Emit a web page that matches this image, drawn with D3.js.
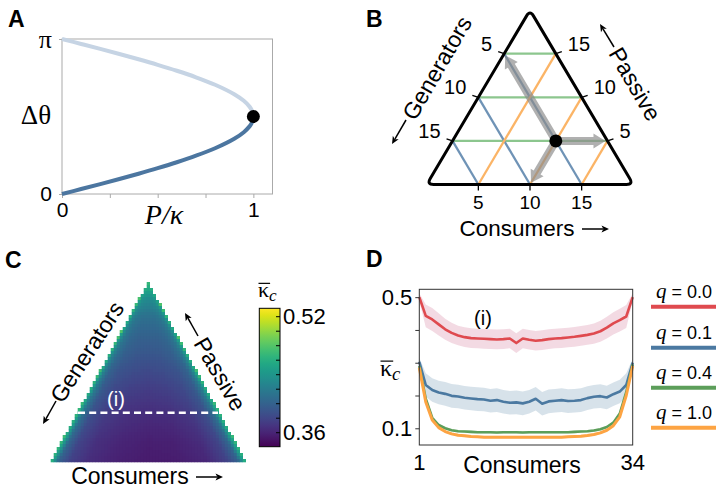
<!DOCTYPE html>
<html><head><meta charset="utf-8">
<script src="https://cdn.jsdelivr.net/npm/d3@7"></script>
<style>
body{margin:0;background:#fff}
svg{display:block}
text{font-family:"Liberation Sans",Arial,Helvetica,sans-serif;fill:#000}
.serif{font-family:"Liberation Serif","DejaVu Serif",serif}
</style>
</head><body>
<svg id="c" width="720" height="488"></svg>
<script>
// ================= DATA =================
// Panel A: phase difference vs load (two branches)
const aP      = [0,0.1,0.2,0.3,0.4,0.5,0.6,0.7,0.8,0.9,0.95,0.98,0.99,0.995,1.0];
const aStable = [0,0.1002,0.2014,0.3047,0.4115,0.5236,0.6435,0.7754,0.9273,1.1198,1.2532,1.3705,1.4293,1.4708,1.5708];
const aUnstab = [3.1416,3.0414,2.9402,2.8369,2.7301,2.6180,2.4981,2.3662,2.2143,2.0218,1.8884,1.7711,1.7123,1.6708,1.5708];
const aSaddle = [1.0, 1.5708];
const aXTicks = [0,0.25,0.5,0.75,1];
const aXTickLabels = ["0","","","","1"];
const aYTicks = [0, 3.1416];
const aYTickLabels = ["0","π"];

// Panel B: ternary sketch (N = 20)
const bTotal = 20;
const bTicks = [5,10,15];
const bPoint = {c:10, g:5, p:5};
const bArrowTargets = [{c:0,g:5,p:15},{c:15,g:0,p:5},{c:10,g:10,p:0}];

// Panel C: mean critical coupling over the simplex (rows apex->base, cols left->right edge)
const cColPos = [0,0.04,0.1,0.2,0.35,0.5,0.65,0.8,0.9,0.96,1];
const cRows = [
  [0.49,0.48,0.47,0.47,0.47,0.47,0.47,0.47,0.47,0.48,0.49],
  [0.48,0.455,0.445,0.435,0.432,0.43,0.432,0.435,0.445,0.455,0.48],
  [0.48,0.445,0.425,0.415,0.41,0.41,0.41,0.415,0.425,0.445,0.48],
  [0.48,0.435,0.415,0.405,0.40,0.40,0.40,0.405,0.415,0.435,0.48],
  [0.475,0.43,0.41,0.398,0.393,0.392,0.393,0.398,0.41,0.43,0.475],
  [0.475,0.425,0.40,0.39,0.385,0.383,0.385,0.39,0.40,0.425,0.475],
  [0.47,0.42,0.395,0.383,0.377,0.375,0.377,0.383,0.395,0.42,0.47],
  [0.47,0.415,0.39,0.377,0.37,0.368,0.37,0.377,0.39,0.415,0.47],
  [0.47,0.41,0.385,0.372,0.365,0.362,0.363,0.37,0.385,0.41,0.47],
  [0.47,0.405,0.38,0.367,0.36,0.357,0.358,0.365,0.38,0.405,0.47],
  [0.47,0.40,0.378,0.365,0.358,0.355,0.356,0.362,0.378,0.40,0.47]
];
const cDomain = [0.3407, 0.5316];
const cBarTicks = [0.36,0.38,0.40,0.42,0.44,0.46,0.48,0.50,0.52];
const cBarLabels = ["0.36","0.52"];

// Panel D: mean critical coupling along line (i)
const dConsumers = d3.range(1,35);
const dSeriesNames = ["0.0","0.1","0.4","1.0"];
const dColors = ["#df4a4f","#4b79a1","#5c9e5a","#fda443"];
const dBandColors = ["#c8557f","#4b79a1","#5c9e5a","#fda443"];
const dQ00 = [0.500,0.443,0.432,0.417,0.402,0.391,0.383,0.378,0.375,0.374,0.373,0.372,0.371,0.372,0.374,0.360,0.374,0.370,0.367,0.369,0.372,0.374,0.375,0.377,0.379,0.382,0.385,0.389,0.396,0.407,0.420,0.430,0.441,0.500];
const dQ01 = [0.303,0.232,0.217,0.209,0.205,0.199,0.197,0.193,0.191,0.189,0.188,0.184,0.186,0.181,0.178,0.179,0.176,0.181,0.190,0.175,0.182,0.184,0.186,0.183,0.184,0.186,0.192,0.196,0.198,0.194,0.204,0.212,0.232,0.300];
const dQ04 = [0.290,0.190,0.132,0.110,0.100,0.094,0.091,0.090,0.089,0.088,0.088,0.088,0.087,0.088,0.088,0.088,0.087,0.088,0.088,0.088,0.088,0.088,0.088,0.088,0.089,0.090,0.091,0.093,0.097,0.104,0.117,0.145,0.210,0.295];
const dQ10 = [0.285,0.180,0.125,0.102,0.090,0.083,0.079,0.077,0.075,0.074,0.073,0.073,0.073,0.073,0.073,0.073,0.073,0.073,0.073,0.073,0.073,0.073,0.073,0.074,0.075,0.076,0.078,0.081,0.086,0.094,0.108,0.135,0.200,0.290];
const dBand00 = [0.012,0.035,0.035,0.034,0.032,0.031,0.030,0.030,0.030,0.030,0.030,0.030,0.030,0.030,0.030,0.030,0.030,0.030,0.030,0.030,0.030,0.030,0.030,0.030,0.030,0.030,0.030,0.031,0.032,0.033,0.034,0.035,0.035,0.012];
const dBand01 = [0.012,0.036,0.036,0.036,0.036,0.036,0.036,0.036,0.036,0.036,0.036,0.036,0.036,0.036,0.036,0.036,0.036,0.036,0.036,0.036,0.036,0.036,0.036,0.036,0.036,0.036,0.036,0.036,0.036,0.036,0.036,0.036,0.036,0.012];
const dBand04 = [0.004,0.006,0.005,0.004,0.004,0.004,0.004,0.004,0.004,0.004,0.004,0.004,0.004,0.004,0.004,0.004,0.004,0.004,0.004,0.004,0.004,0.004,0.004,0.004,0.004,0.004,0.004,0.004,0.004,0.004,0.004,0.005,0.006,0.004];
const dBand10 = [0.004,0.006,0.005,0.004,0.004,0.004,0.004,0.004,0.004,0.004,0.004,0.004,0.004,0.004,0.004,0.004,0.004,0.004,0.004,0.004,0.004,0.004,0.004,0.004,0.004,0.004,0.004,0.004,0.004,0.004,0.004,0.005,0.006,0.004];
const dYTicks = [0.1,0.2,0.3,0.4,0.5];
const dYTickLabels = ["0.1","","","","0.5"];
const dXTickLabels = ["1","34"];

// ================= DRAW =================
const svg = d3.select("#c");
const defs = svg.append("defs");

function panelLabel(t,x,y){
  svg.append("text").attr("x",x).attr("y",y).attr("font-size",23).attr("font-weight","bold").text(t);
}
function arrowLine(g,x1,y1,x2,y2,col){
  col = col||"#000";
  const dx=x2-x1, dy=y2-y1, L=Math.hypot(dx,dy), ux=dx/L, uy=dy/L;
  const hl=7.5, hw=3.4;
  g.append("line").attr("x1",x1).attr("y1",y1).attr("x2",x2-ux*hl*0.8).attr("y2",y2-uy*hl*0.8)
    .attr("stroke",col).attr("stroke-width",1.5);
  g.append("path").attr("d",`M${x2},${y2}L${x2-ux*hl-uy*hw},${y2-uy*hl+ux*hw}L${x2-ux*hl*0.75},${y2-uy*hl*0.75}L${x2-ux*hl+uy*hw},${y2-uy*hl-ux*hw}Z`).attr("fill",col);
}
function rotLabel(text,cx,cy,angle,size){
  svg.append("text").attr("transform",`translate(${cx},${cy}) rotate(${angle})`)
    .attr("text-anchor","middle").attr("dominant-baseline","central").attr("font-size",size).text(text);
}

// ---------- Panel A ----------
panelLabel("A",8,27);
const ax = d3.scaleLinear().domain([0,1.1]).range([62,272.5]);
const ay = d3.scaleLinear().domain([0,Math.PI]).range([194,39]);
const gA = svg.append("g");
gA.append("rect").attr("x",ax(0)).attr("y",ay(Math.PI)).attr("width",ax(1.1)-ax(0)).attr("height",ay(0)-ay(Math.PI))
  .attr("fill","none").attr("stroke","#aaa").attr("stroke-width",1);
const axB = gA.append("g").attr("transform",`translate(0,${ay(0)})`)
  .call(d3.axisBottom(ax).tickValues(aXTicks).tickSize(4).tickPadding(3).tickFormat((d,i)=>aXTickLabels[i]));
axB.select(".domain").remove();
axB.selectAll("line").attr("stroke","#aaa");
axB.selectAll("text").attr("font-size",21).attr("fill","#000").attr("dy","0.75em");
const axL = gA.append("g").attr("transform",`translate(${ax(0)},0)`)
  .call(d3.axisLeft(ay).tickValues(aYTicks).tickSize(3).tickPadding(7).tickFormat((d,i)=>aYTickLabels[i]));
axL.select(".domain").remove();
axL.selectAll("line").attr("stroke","#aaa");
axL.selectAll("text").attr("fill","#000")
  .attr("class",(d,i)=> aYTickLabels[i]==="π"?"serif":null).attr("font-size",(d,i)=>aYTickLabels[i]==="π"?26:21);
const aLine = d3.line().x(d=>ax(d[0])).y(d=>ay(d[1])).curve(d3.curveCatmullRom);
gA.append("path").attr("d",aLine(aP.map((p,i)=>[p,aUnstab[i]]))).attr("fill","none").attr("stroke","#c6d4e4").attr("stroke-width",4);
gA.append("path").attr("d",aLine(aP.map((p,i)=>[p,aStable[i]]))).attr("fill","none").attr("stroke","#4c76a0").attr("stroke-width",4);
gA.append("circle").attr("cx",ax(aSaddle[0])).attr("cy",ay(aSaddle[1])).attr("r",6.5).attr("fill","#000");
gA.append("text").attr("class","serif").attr("x",36).attr("y",124).attr("text-anchor","middle").attr("font-size",27).text("Δθ");
gA.append("text").attr("class","serif").attr("x",164).attr("y",224).attr("text-anchor","middle").attr("font-size",28)
  .attr("font-style","italic").text("P/κ");

// ---------- Panel B ----------
panelLabel("B",366,27);
const bxs = d3.scaleLinear().domain([0,bTotal]).range([426.7,633.3]);
const bys = d3.scaleLinear().domain([0,bTotal]).range([184.5,10.1]);
const tern = o => [bxs(o.c + o.p/2), bys(o.p)];
const gB = svg.append("g");
function seg(a,b,col){
  const A=tern(a),B=tern(b);
  gB.append("line").attr("x1",A[0]).attr("y1",A[1]).attr("x2",B[0]).attr("y2",B[1]).attr("stroke",col).attr("stroke-width",2.3);
}
bTicks.forEach(k=>seg({c:0,g:bTotal-k,p:k},{c:bTotal-k,g:0,p:k},"#8cc68e"));
bTicks.forEach(k=>seg({c:0,g:k,p:bTotal-k},{c:bTotal-k,g:k,p:0},"#6f93b6"));
bTicks.forEach(k=>seg({c:k,g:bTotal-k,p:0},{c:k,g:0,p:bTotal-k},"#fbb466"));
// gray arrows
const gArr = gB.append("g").attr("opacity",0.68);
const P0 = tern(bPoint);
bArrowTargets.forEach(t=>{
  const T = tern(t);
  const dx=T[0]-P0[0], dy=T[1]-P0[1], L=Math.hypot(dx,dy), ux=dx/L, uy=dy/L;
  const tip=[T[0]-ux*2, T[1]-uy*2], hl=12, hw=7.5, sw=4;
  const base=[tip[0]-ux*hl, tip[1]-uy*hl];
  gArr.append("path").attr("d",`M${P0[0]-uy*sw},${P0[1]+ux*sw}L${base[0]-uy*sw},${base[1]+ux*sw}L${base[0]-uy*hw},${base[1]+ux*hw}L${tip[0]},${tip[1]}L${base[0]+uy*hw},${base[1]-ux*hw}L${base[0]+uy*sw},${base[1]-ux*sw}L${P0[0]+uy*sw},${P0[1]-ux*sw}Z`)
    .attr("fill","#8c8c8c");
});
gB.append("circle").attr("cx",P0[0]).attr("cy",P0[1]).attr("r",6.5).attr("fill","#000");
// rounded triangle border
const V = [tern({c:0,g:bTotal,p:0}), tern({c:bTotal,g:0,p:0}), tern({c:0,g:0,p:bTotal})];
(function(){
  const r=7; let d="";
  for(let i=0;i<3;i++){
    const v=V[i], prev=V[(i+2)%3], next=V[(i+1)%3];
    const u1=[prev[0]-v[0],prev[1]-v[1]], l1=Math.hypot(...u1);
    const u2=[next[0]-v[0],next[1]-v[1]], l2=Math.hypot(...u2);
    const a=[v[0]+u1[0]/l1*r, v[1]+u1[1]/l1*r], b=[v[0]+u2[0]/l2*r, v[1]+u2[1]/l2*r];
    d += (i===0?"M":"L")+a[0]+","+a[1]+"Q"+v[0]+","+v[1]+" "+b[0]+","+b[1];
  }
  d+="Z";
  gB.append("path").attr("d",d).attr("fill","none").attr("stroke","#000").attr("stroke-width",3).attr("stroke-linejoin","round");
})();
// ticks + labels
bTicks.forEach(k=>{
  let p = tern({c:0,g:k,p:bTotal-k});
  gB.append("line").attr("x1",p[0]).attr("y1",p[1]).attr("x2",p[0]-6).attr("y2",p[1]-2).attr("stroke","#000").attr("stroke-width",1.3);
  gB.append("text").attr("x",p[0]-12).attr("y",p[1]-10).attr("text-anchor","end").attr("dominant-baseline","central").attr("font-size",20).text(k);
  p = tern({c:bTotal-k,g:0,p:k});
  gB.append("line").attr("x1",p[0]).attr("y1",p[1]).attr("x2",p[0]+6).attr("y2",p[1]-2).attr("stroke","#000").attr("stroke-width",1.3);
  gB.append("text").attr("x",p[0]+12).attr("y",p[1]-10).attr("text-anchor","start").attr("dominant-baseline","central").attr("font-size",20).text(k);
  p = tern({c:k,g:bTotal-k,p:0});
  gB.append("line").attr("x1",p[0]).attr("y1",p[1]).attr("x2",p[0]).attr("y2",p[1]+6).attr("stroke","#000").attr("stroke-width",1.3);
  gB.append("text").attr("x",p[0]).attr("y",p[1]+24.5).attr("text-anchor","middle").attr("font-size",19).text(k);
});
rotLabel("Generators",437,68,-60,23);
arrowLine(svg,406,120,392,144);
rotLabel("Passive",635,84,60,23);
arrowLine(svg,614,47,600,24);
svg.append("text").attr("x",517).attr("y",236).attr("text-anchor","middle").attr("font-size",22.5).text("Consumers");
arrowLine(svg,582,229,609,229);

// ---------- Panel C ----------
panelLabel("C",5,268);
const cApex=[148,282], cBL=[51.7,459.5], cBR=[245,459.5];
const cColor = d3.scaleSequential(d3.interpolateViridis).domain(cDomain);
function cValue(t,s){
  const nr=cRows.length-1, rf=t*nr, r0=Math.min(Math.floor(rf),nr-1), fr=rf-r0;
  let j=0; while(j<cColPos.length-2 && s>cColPos[j+1]) j++;
  const fs=(s-cColPos[j])/(cColPos[j+1]-cColPos[j]);
  const v0=cRows[r0][j]*(1-fs)+cRows[r0][j+1]*fs;
  const v1=cRows[r0+1][j]*(1-fs)+cRows[r0+1][j+1]*fs;
  return v0*(1-fr)+v1*fr;
}
const cCells=[]; const cs=3;
for(let y=cApex[1]; y<cBL[1]; y+=cs){
  const cy=y+cs/2, t=(cy-cApex[1])/(cBL[1]-cApex[1]);
  const L=cApex[0]-t*(cApex[0]-cBL[0]), R=cApex[0]+t*(cBR[0]-cApex[0]);
  for(let x=cBL[0]-1; x<cBR[0]; x+=cs){
    const cx=x+cs/2;
    if(cx<L||cx>R) continue;
    const s=(R-L)>0?(cx-L)/(R-L):0.5;
    cCells.push({x,y,v:cValue(t,Math.max(0,Math.min(1,s)))});
  }
}
svg.append("g").selectAll("rect").data(cCells).join("rect")
  .attr("x",d=>d.x).attr("y",d=>d.y).attr("width",cs+0.3).attr("height",cs+0.3).attr("fill",d=>cColor(d.v));
// dashed line (i)
svg.append("line").attr("x1",78).attr("y1",412.7).attr("x2",218).attr("y2",412.7)
  .attr("stroke","#fff").attr("stroke-width",2.6).attr("stroke-dasharray","7,4.2");
svg.append("text").attr("x",116).attr("y",406).attr("text-anchor","middle").attr("font-size",20).style("fill","#fff").text("(i)");
rotLabel("Generators",87,352,-57,23);
arrowLine(svg,56,401,43,424);
rotLabel("Passive",220,374,60,23);
arrowLine(svg,198,336,185,313);
svg.append("text").attr("x",130).attr("y",484).attr("text-anchor","middle").attr("font-size",23).text("Consumers");
arrowLine(svg,196,477,223,477);
// colorbar
const cbX=259.3, cbW=20.7, cbY0=308.3, cbY1=446.7;
const cby = d3.scaleLinear().domain(cDomain).range([cbY1,cbY0]);
const grad = defs.append("linearGradient").attr("id","vir").attr("x1",0).attr("y1",1).attr("x2",0).attr("y2",0);
d3.range(0,1.0001,0.05).forEach(f=>grad.append("stop").attr("offset",f).attr("stop-color",d3.interpolateViridis(f)));
svg.append("rect").attr("x",cbX).attr("y",cbY0).attr("width",cbW).attr("height",cbY1-cbY0).attr("fill","url(#vir)").attr("stroke","#000").attr("stroke-width",1);
cBarTicks.forEach(v=>svg.append("line").attr("x1",cbX+cbW-4).attr("x2",cbX+cbW).attr("y1",cby(v)).attr("y2",cby(v)).attr("stroke","#000").attr("stroke-width",1));
[cBarTicks[0], cBarTicks[cBarTicks.length-1]].forEach((v,i)=>svg.append("text").attr("x",cbX+cbW+3).attr("y",cby(v)).attr("dominant-baseline","central").attr("font-size",22).text(cBarLabels[i]));
function kappaLabel(x,y,size){
  const t=svg.append("text").attr("x",x).attr("y",y).attr("font-size",size);
  t.append("tspan").attr("class","serif").text("κ");
  t.append("tspan").attr("class","serif").attr("font-style","italic").attr("font-size",size*0.78).attr("dy",size*0.18).text("c");
  svg.append("line").attr("x1",x+0.5).attr("x2",x+size*0.55).attr("y1",y-size*0.62).attr("y2",y-size*0.62).attr("stroke","#000").attr("stroke-width",1.2);
}
kappaLabel(258,297,22);

// ---------- Panel D ----------
panelLabel("D",366,267);
const dx = d3.scaleLinear().domain([1,34]).range([419.3,632.7]);
const dy = d3.scaleLinear().domain([0.049,0.524]).range([445,289.3]);
const gD = svg.append("g");
const dSeries=[dQ00,dQ01,dQ04,dQ10], dBands=[dBand00,dBand01,dBand04,dBand10];
const dArea = (vals,band)=>d3.area().x((d,i)=>dx(dConsumers[i])).y0((d,i)=>dy(vals[i]-band[i])).y1((d,i)=>dy(vals[i]+band[i]))(vals);
const dLine = d3.line().x((d,i)=>dx(dConsumers[i])).y(d=>dy(d));
dSeries.forEach((vals,k)=>{
  gD.append("path").attr("d",dArea(vals,dBands[k])).attr("fill",dBandColors[k]).attr("opacity",k<2?0.22:0.25);
});
dSeries.forEach((vals,k)=>{
  gD.append("path").attr("d",dLine(vals)).attr("fill","none").attr("stroke",dColors[k]).attr("stroke-width",k===3?3:2.6).attr("stroke-linejoin","round");
});
gD.append("rect").attr("x",dx(1)).attr("y",dy(0.524)).attr("width",dx(34)-dx(1)).attr("height",dy(0.049)-dy(0.524))
  .attr("fill","none").attr("stroke","#333").attr("stroke-width",1);
const dAxL = gD.append("g").attr("transform",`translate(${dx(1)},0)`)
  .call(d3.axisLeft(dy).tickValues(dYTicks).tickSize(4).tickPadding(3).tickFormat((d,i)=>dYTickLabels[i]));
dAxL.select(".domain").remove();
dAxL.selectAll("line").attr("stroke","#333");
dAxL.selectAll("text").attr("font-size",22).attr("fill","#000");
[1,34].forEach((v,i)=>gD.append("text").attr("x",dx(v)).attr("y",470).attr("text-anchor","middle").attr("font-size",22).text(dXTickLabels[i]));
gD.append("text").attr("x",522).attr("y",473).attr("text-anchor","middle").attr("font-size",23).text("Consumers");
gD.append("text").attr("x",483).attr("y",325).attr("text-anchor","middle").attr("font-size",20).text("(i)");
kappaLabel(380,376,24);
// legend
const legY=[306.7,347.7,387.7,427.7];
dSeriesNames.forEach((n,k)=>{
  gD.append("line").attr("x1",651).attr("x2",716).attr("y1",legY[k]).attr("y2",legY[k]).attr("stroke",dColors[k]).attr("stroke-width",4);
  const t=gD.append("text").attr("x",684).attr("y",legY[k]-8.5).attr("text-anchor","middle").attr("font-size",18);
  t.append("tspan").attr("class","serif").attr("font-style","italic").attr("font-size",21).text("q");
  t.append("tspan").text(" = "+n);
});
</script>
</body></html>
